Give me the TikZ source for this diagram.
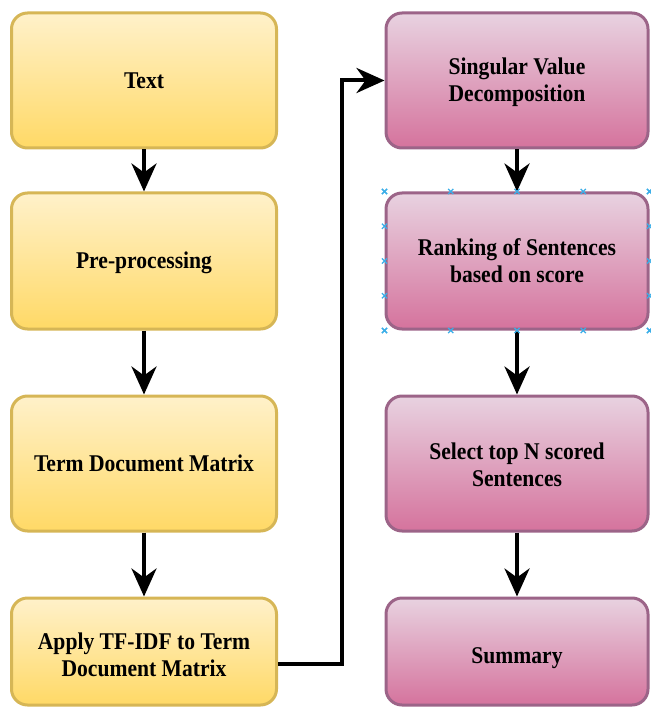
\documentclass[tikz,border=0pt]{standalone}
\usepackage{fontspec}
\setmainfont{Liberation Serif}[FakeStretch=0.9]
\usetikzlibrary{arrows.meta,calc}
\definecolor{yelTop}{HTML}{FFF1CA}
\definecolor{yelBot}{HTML}{FFD966}
\definecolor{yelLine}{HTML}{D6B656}
\definecolor{pinkTop}{HTML}{E8D2E0}
\definecolor{pinkBot}{HTML}{D5739D}
\definecolor{pinkLine}{HTML}{9C6488}
\definecolor{handle}{HTML}{3BAEE8}
\tikzset{
  % the last baseline sits #1/2 below the box centre
  drop/.style={text height=#1, text depth=0pt},
  box/.style={rectangle, rounded corners=16pt, line width=3pt, align=center,
    font=\fontsize{24}{27}\selectfont\bfseries, inner sep=0pt, drop=15.5pt},
  yelbox/.style={box, draw=yelLine, top color=yelTop, bottom color=yelBot, minimum width=265pt},
  pinkbox/.style={box, draw=pinkLine, top color=pinkTop, bottom color=pinkBot, minimum width=262pt},
  flow/.style={line width=4pt, -{Stealth[length=28pt,width=25pt,inset=9pt]}},
  handlemark/.style={handle, line width=1.2pt}
}
\begin{document}
\begin{tikzpicture}[x=1pt,y=-1pt]
\useasboundingbox (0,0) rectangle (650,708);

% left column
\node[yelbox, minimum height=135pt, drop=17pt] (l1) at (144,80.5) {Text};
\node[yelbox, minimum height=136pt, drop=15pt] (l2) at (144,261) {Pre-processing};
\node[yelbox, minimum height=135pt] (l3) at (144,463.5) {Term Document Matrix};
\node[yelbox, minimum height=107pt, drop=49pt] (l4) at (144,651.5) {Apply TF-IDF to Term\\Document Matrix};

% right column
\node[pinkbox, minimum height=135pt, drop=43pt] (r1) at (517,80.5) {Singular Value\\Decomposition};
\node[pinkbox, minimum height=136pt, drop=42pt] (r2) at (517,261) {Ranking of Sentences\\based on score};
\node[pinkbox, minimum height=135pt, drop=45pt] (r3) at (517,463.5) {Select top N scored\\Sentences};
\node[pinkbox, minimum height=107pt, drop=23pt] (r4) at (517,651.5) {Summary};

% connectors
\draw[flow] (l1) -- (l2);
\draw[flow] (l2) -- (l3);
\draw[flow] (l3) -- (l4);
\coordinate (bend) at (342,664);
\draw[flow] (l4.east |- bend) -- (bend) |- (r1.west);
\draw[flow] (r1) -- (r2);
\draw[flow] (r2) -- (r3);
\draw[flow] (r3) -- (r4);

% selection handles around the ranking box
\foreach \f in {0,0.25,0.5,0.75,1}{
  \foreach \p in {($(r2.north west)!\f!(r2.north east)$),
                  ($(r2.south west)!\f!(r2.south east)$),
                  ($(r2.north west)!\f!(r2.south west)$),
                  ($(r2.north east)!\f!(r2.south east)$)}{
    \draw[handlemark] \p +(-2.6,-2.6) -- +(2.6,2.6) \p +(-2.6,2.6) -- +(2.6,-2.6);
  }
}
\end{tikzpicture}
\end{document}
